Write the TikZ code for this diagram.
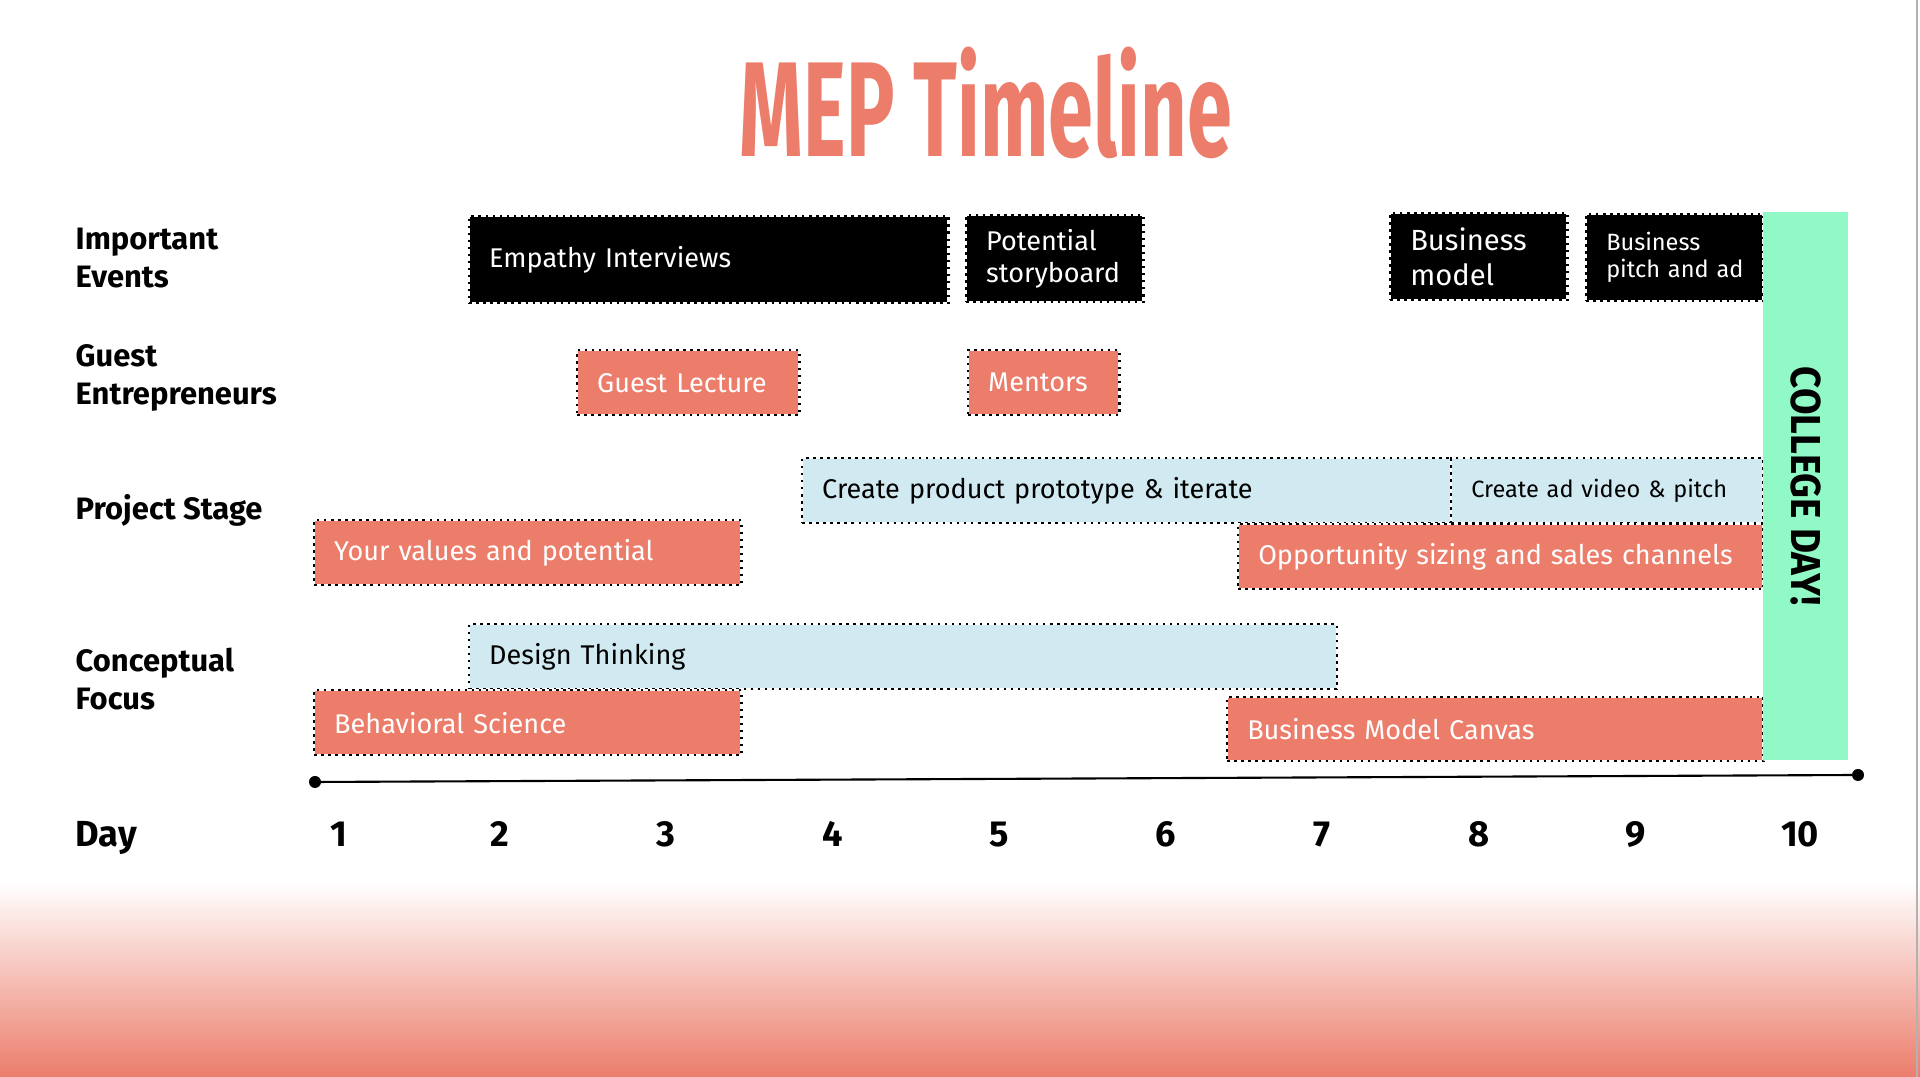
\documentclass[tikz,border=0pt]{standalone}
\usepackage{fontspec}
\setmainfont{Fira Sans}
\newfontfamily\titlefont{Fira Sans}[FakeStretch=0.6]
\newfontfamily\bandfont{Fira Sans}[FakeStretch=0.92]
\usetikzlibrary{positioning}
\definecolor{SalmonClr}{RGB}{236,125,107}
\definecolor{IceClr}{RGB}{209,234,241}
\definecolor{MintClr}{RGB}{144,249,197}

\tikzset{
  slot/.style 2 args={anchor=north west, text width=#1, minimum height=#2,
    inner xsep=0.2cm, inner ysep=0pt, align=left,
    font=\fontsize{7.7}{9}\selectfont,
    draw=white, line width=0.7pt,
    postaction={draw=black, line width=0.7pt, dash pattern=on 0.7pt off 1.3pt}},
  event/.style={fill=black, text=white},
  talk/.style={fill=SalmonClr, text=white},
  stage/.style={fill=IceClr, text=black},
  rowlabel/.style={anchor=base west, align=left, inner sep=0pt,
    font=\fontsize{8.8}{11}\selectfont\bfseries},
  daylabel/.style={anchor=base, inner sep=0pt,
    font=\fontsize{10.3}{12}\selectfont\bfseries},
}

\begin{document}
\begin{tikzpicture}[x=0.01cm,y=-0.01cm]
\useasboundingbox (0,0) rectangle (1920,1077);

% bottom fade
\shade[top color=white, bottom color=SalmonClr] (0,882) rectangle (1920,1077);
\draw[gray!60, line width=0.4pt] (1917,0) -- (1917,1077);

\node[anchor=base, inner sep=0pt, text=SalmonClr,
  font=\titlefont\fontsize{38.4}{40}\selectfont\bfseries] (title) at (986,157) {MEP Timeline};

% row labels (base = last line)
\node[rowlabel] (lblevents) at (75,288) {Important\\Events};
\node[rowlabel] (lblguests) at (75,405) {Guest\\Entrepreneurs};
\node[rowlabel] (lblstage) at (75,520) {Project Stage};
\node[rowlabel] (lblfocus) at (75,710) {Conceptual\\Focus};

% important events
\node[slot={4.39cm}{0.87cm}, event] (empathy) at (468,215) {Empathy Interviews};
\node[slot={1.37cm}{0.87cm}, event] (story) at (965,214) {Potential\\storyboard};
\node[slot={1.37cm}{0.87cm}, event, font=\fontsize{8.3}{10.2}\selectfont] (bizmodel) at (1389,212) {Business\\model};
\node[slot={1.49cm}{0.87cm}, event, inner xsep=0.14cm, font=\fontsize{6.7}{7.7}\selectfont] (pitch) at (1585,213) {\hspace*{0.06cm}Business\\\hspace*{0.06cm}pitch and ad};

% guest entrepreneurs
\node[slot={1.82cm}{0.65cm}, talk] (lecture) at (576,349) {Guest Lecture};
\node[slot={1.11cm}{0.65cm}, talk] (mentors) at (967,349) {Mentors};

% project stage
\node[slot={6.09cm}{0.65cm}, stage] (prototype) at (801,457) {Create product prototype \& iterate};
\node[slot={2.72cm}{0.65cm}, stage, font=\fontsize{6.7}{8}\selectfont] (advideo) at (1450,457) {Create ad video \& pitch};
\node[slot={3.87cm}{0.65cm}, talk] (values) at (313,519) {Your values and potential};
\node[slot={4.85cm}{0.65cm}, talk] (sizing) at (1237,523) {Opportunity sizing and sales channels};

% conceptual focus
\node[slot={8.27cm}{0.65cm}, stage] (design) at (468,623) {Design Thinking};
\node[slot={3.87cm}{0.65cm}, talk] (behave) at (313,689) {Behavioral Science};
\node[slot={4.96cm}{0.64cm}, talk] (canvas) at (1226,696) {Business Model Canvas};

% final day
\node[rotate=-90, fill=MintClr, minimum width=5.48cm, minimum height=0.85cm, inner sep=0pt,
  font=\bandfont\fontsize{11.9}{13}\selectfont\bfseries] (college) at (1805.5,486) {COLLEGE DAY!};

% time axis
\coordinate (axisA) at (315,782);
\coordinate (axisB) at (1858,775);
\draw[line width=0.6pt] (axisA) -- (axisB);
\fill (axisA) circle (0.06cm);
\fill (axisB) circle (0.06cm);

\node[daylabel, anchor=base west] (dayword) at (75,847) {Day};
\foreach \d/\x in {1/339,2/500,3/666,4/833,5/999,6/1166,7/1322,8/1479,9/1636,10/1800}
  \node[daylabel] (day\d) at (\x,847) {\d};

\end{tikzpicture}
\end{document}
